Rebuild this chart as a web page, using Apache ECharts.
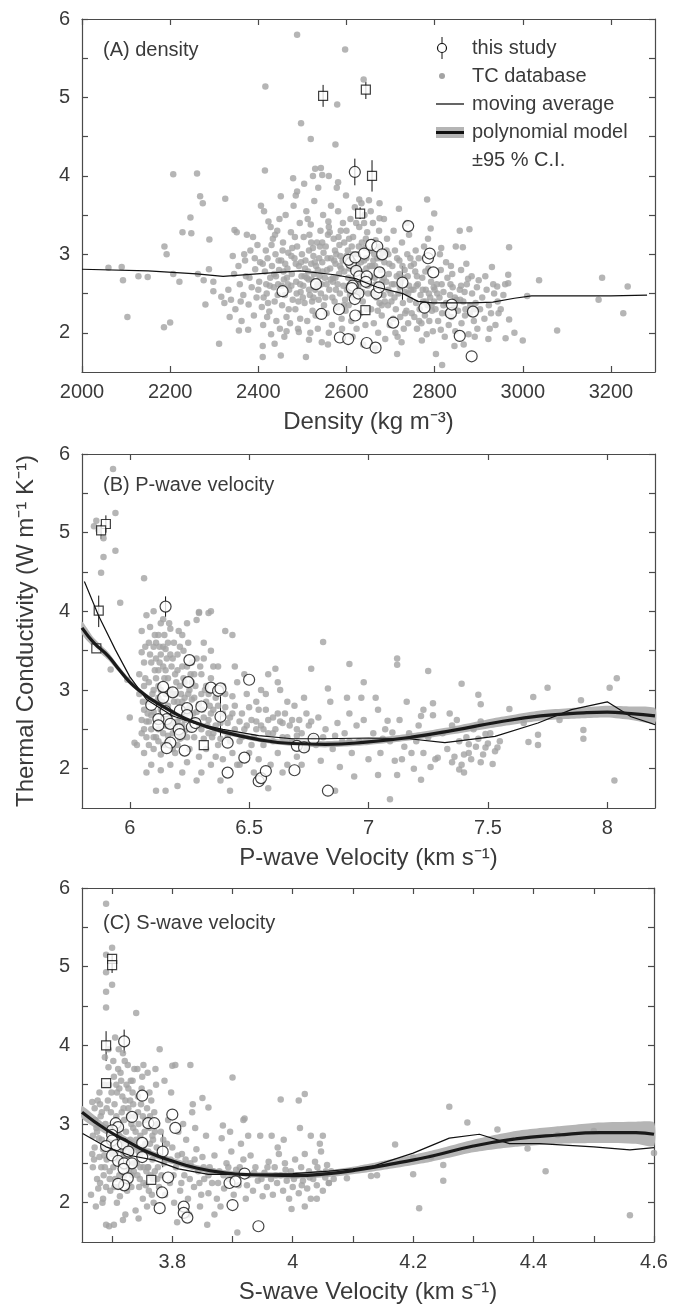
<!DOCTYPE html>
<html>
<head>
<meta charset="utf-8">
<script src="https://cdn.jsdelivr.net/npm/echarts@6/dist/echarts.min.js"></script>
<style>html,body{margin:0;padding:0;background:#fff}#chart{width:673px;height:1311px}</style>
</head>
<body>
<div id="chart"></div>
<script>
var FONT = 'Liberation Sans, Arial, sans-serif';
var INK = '#3a3a3a';

// ---------- (A) density ----------
var tcA = [[2488,5.80],[2597,5.61],[2416,5.14],[2639,5.23],[2579,4.91],[2497,4.67],[2519,4.47],[2575,4.40],[2207,4.02],[2261,4.03],[2415,4.07],[2529,4.09],[2542,4.10],[2524,4.00],[2545,4.01],[2560,4.00],[2581,3.92],[2479,3.97],[2451,3.74],[2488,3.80],[2268,3.74],[2274,3.65],[2325,3.71],[2246,3.47],[2228,3.28],[2248,3.27],[2289,3.19],[2187,3.10],[2192,3.00],[2060,2.83],[2090,2.84],[2093,2.67],[2128,2.72],[2149,2.71],[2207,2.75],[2221,2.65],[2263,2.75],[2288,2.81],[2276,2.67],[2298,2.65],[2298,2.53],[2280,2.36],[2103,2.20],[2186,2.07],[2200,2.13],[2311,1.86],[2323,2.38],[2316,2.46],[2346,3.31],[2351,3.28],[2374,3.25],[2388,3.22],[2410,1.83],[2410,1.69],[2451,1.71],[2437,1.86],[2464,2.02],[2492,2.01],[2508,1.69],[2515,1.91],[2544,1.88],[2558,1.85],[2377,2.04],[2356,2.03],[2817,1.59],[2803,1.73],[2715,1.73],[2814,2.04],[2845,1.83],[2891,1.95],[2922,1.92],[2961,1.93],[2981,2.00],[3000,1.90],[3078,2.03],[3228,2.25],[3238,2.59],[3180,2.70],[3172,2.42],[3037,2.67],[3010,2.47],[2969,3.09],[2967,2.74],[2967,2.63],[2879,3.32],[2857,3.30],[2864,3.09],[2930,2.84],[2837,2.85],[2783,3.70],[2799,3.52],[2719,3.58],[2675,3.65],[2651,3.69],[2629,3.70],[2675,3.46],[2742,3.25],[2791,3.33],[2815,3.08],[2945,2.25],[2969,2.17],[2935,2.50],[2942,2.59],[2900,2.67],[2876,2.69],
[2332,2.55],[2338,2.42],[2342,2.98],[2348,2.30],[2355,2.85],[2358,2.62],[2362,2.15],[2366,2.48],[2370,2.92],[2372,2.72],[2378,2.36],[2382,3.05],[2385,2.58],[2390,2.22],[2393,2.81],[2396,2.45],[2398,3.12],[2368,3.00],[2345,2.75],[2335,2.20],
[2402,2.65],[2404,2.90],[2406,3.62],[2408,2.33],[2411,2.10],[2413,3.55],[2415,2.78],[2417,3.05],[2419,2.50],[2421,2.95],[2423,3.42],[2425,2.27],[2427,2.70],[2429,1.98],[2431,2.85],[2433,3.20],[2435,2.58],[2437,2.40],[2439,3.00],[2441,2.15],[2443,3.30],[2445,2.62],[2447,2.80],[2449,2.05],[2420,2.20],[2430,3.12],[2440,2.72],[2412,2.45],[2426,2.60],[2448,3.45],
[2452,2.92],[2454,2.35],[2456,3.15],[2458,2.68],[2460,2.48],[2462,3.50],[2464,2.20],[2466,2.82],[2468,3.02],[2470,2.55],[2472,2.12],[2474,3.28],[2476,2.75],[2478,2.42],[2480,3.62],[2482,2.95],[2484,2.30],[2486,2.65],[2488,3.10],[2490,2.05],[2492,2.85],[2494,3.40],[2496,2.52],[2498,2.72],[2459,1.95],[2467,2.62],[2475,2.98],[2483,3.22],[2491,2.40],[2499,3.00],[2457,2.78],[2485,3.75],[2495,2.18],
[2502,2.60],[2503,3.22],[2505,2.38],[2507,2.92],[2509,3.55],[2511,2.15],[2513,2.78],[2515,3.05],[2517,2.48],[2519,3.38],[2521,2.68],[2523,2.28],[2525,2.98],[2527,3.68],[2529,2.55],[2531,2.85],[2533,3.15],[2535,2.05],[2537,2.42],[2539,2.72],[2541,3.30],[2543,2.62],[2545,2.90],[2547,3.50],[2549,2.35],[2506,2.82],[2512,3.45],[2518,2.00],[2524,3.08],[2530,2.22],[2536,3.85],[2542,2.50],[2548,3.02],[2514,2.68],[2526,2.75],[2538,2.95],[2504,3.90],[2520,2.88],
[2551,2.70],[2553,3.10],[2555,2.25],[2557,2.95],[2559,3.42],[2561,2.55],[2563,2.82],[2565,3.62],[2567,2.10],[2569,2.65],[2571,3.20],[2573,2.40],[2575,2.88],[2577,3.00],[2579,2.32],[2581,3.55],[2583,2.75],[2585,2.50],[2587,3.30],[2589,2.18],[2591,2.92],[2593,2.60],[2595,3.15],[2597,2.42],[2599,3.75],[2556,2.80],[2562,3.28],[2568,2.45],[2574,3.05],[2580,2.62],[2586,2.98],[2592,3.40],[2598,2.28],[2560,2.00],[2578,3.85],[2590,2.05],[2570,2.70],[2584,3.12],
[2601,2.55],[2603,3.05],[2605,2.35],[2607,2.82],[2609,3.45],[2611,2.15],[2613,2.68],[2615,3.22],[2617,2.45],[2619,3.60],[2621,2.78],[2623,2.05],[2625,3.00],[2627,2.60],[2629,3.35],[2631,2.25],[2633,2.90],[2635,3.15],[2637,2.40],[2639,2.72],[2641,3.50],[2643,2.10],[2645,2.95],[2647,3.28],[2649,2.50],[2606,3.20],[2614,1.95],[2622,3.40],[2630,2.65],[2638,1.85],[2646,2.30],[2610,2.92],[2626,2.48],[2642,3.08],[2618,2.62],[2634,3.65],
[2652,2.62],[2654,3.05],[2656,2.30],[2658,2.85],[2660,3.40],[2662,2.12],[2664,2.70],[2666,3.18],[2668,2.45],[2670,2.95],[2672,2.00],[2674,3.30],[2676,2.58],[2678,2.80],[2680,2.22],[2682,3.02],[2684,2.48],[2686,2.90],[2688,1.92],[2690,2.65],[2692,3.20],[2694,2.35],[2696,2.75],[2698,2.10],[2655,3.55],[2665,1.80],[2675,2.38],[2685,3.45],[2695,2.55],[2661,2.92],
[2702,2.40],[2704,2.85],[2706,2.18],[2708,2.62],[2710,3.05],[2712,2.30],[2714,2.72],[2716,1.95],[2718,2.50],[2720,2.92],[2722,2.20],[2724,2.65],[2726,3.15],[2728,2.38],[2730,2.05],[2732,2.80],[2734,2.52],[2736,2.28],[2738,3.00],[2740,2.12],[2742,2.60],[2744,2.42],[2746,2.85],[2748,2.25],[2707,3.30],[2725,1.88],[2737,3.40],[2711,2.00],[2729,2.70],[2745,2.95],
[2752,2.55],[2754,2.20],[2756,2.78],[2758,2.38],[2760,2.05],[2762,2.62],[2764,2.95],[2766,2.30],[2768,2.48],[2770,2.12],[2772,2.70],[2774,2.40],[2776,3.10],[2778,2.22],[2780,2.55],[2782,1.98],[2784,2.35],[2786,2.82],[2788,2.15],[2790,2.45],[2792,2.65],[2794,2.28],[2796,2.02],[2798,2.58],[2757,3.05],[2771,1.90],[2785,3.20],[2799,2.40],
[2802,2.30],[2805,2.62],[2808,2.15],[2811,2.45],[2814,2.80],[2817,2.25],[2820,2.52],[2823,1.95],[2826,2.38],[2829,2.70],[2832,2.10],[2835,2.48],[2838,2.20],[2841,2.58],[2844,2.32],[2847,2.02],[2850,2.42],[2812,3.00],[2826,2.90],[2840,2.75],[2848,3.10],
[2853,2.28],[2857,2.55],[2861,2.12],[2865,2.40],[2869,2.22],[2873,2.62],[2877,1.98],[2881,2.35],[2885,2.50],[2889,2.15],[2893,2.38],[2897,2.05],[2860,2.80],[2872,2.88],[2884,2.72],[2896,2.58],[2866,1.85],
[2903,2.30],[2908,2.45],[2913,2.18],[2918,2.55],[2923,2.35],[2928,2.25],[2933,2.62],[2938,2.10],[2943,2.40],[2950,2.30],[2956,2.48],[2915,2.72],[2925,2.05],[2960,2.62],
[2453,2.60],[2461,2.88],[2469,2.30],[2477,3.08],[2487,2.50],[2497,2.90],[2501,2.45],[2510,2.70],[2516,3.25],[2522,2.40],[2528,2.90],[2534,2.62],[2540,3.10],[2546,2.78],[2552,2.45],[2558,3.25],[2564,2.68],[2572,2.92],[2576,2.55],[2582,3.22],[2588,2.82],[2594,2.35],[2600,2.98],[2604,2.70],[2608,2.48],[2612,3.10],[2616,2.85],[2624,2.55],[2628,3.10],[2632,2.78],[2636,2.52],[2640,2.92],[2644,3.20],[2648,2.60],[2653,2.85],[2659,2.50],[2663,3.00],[2667,2.62],[2671,2.28],[2677,2.95],[2681,2.65],[2687,2.40],[2691,3.05],[2697,2.88],[2703,2.62],[2709,2.45],[2715,2.95],[2721,2.58],[2727,2.85],[2733,2.25],[2739,2.72],[2747,2.55],[2753,2.88],[2759,2.60],[2765,2.15],[2773,2.55],[2779,2.78],[2787,2.50],[2793,2.35],[2806,2.50],[2816,2.62],[2828,2.25],[2836,2.62],[2846,2.45],[2858,2.42],[2868,2.52],[2880,2.25],[2890,2.30],[2410,2.88],[2418,2.62],[2428,3.35],[2436,2.75],[2444,2.48],[2422,2.38],[2438,3.25],[2446,2.92],[2380,2.70],[2360,2.40],[2392,2.95],
[2505,2.72],[2515,2.55],[2525,2.45],[2535,2.80],[2545,3.15],[2555,2.62],[2565,2.95],[2575,2.70],[2585,2.85],[2595,2.78],[2605,2.60],[2615,3.00],[2625,2.85],[2635,2.68],[2645,2.82],[2655,2.72],[2665,2.85],[2675,3.10],[2685,2.70],[2695,3.00],[2465,2.70],[2475,2.60],[2485,2.88],[2495,2.62],[2455,3.05],[2520,3.15],[2560,3.35],[2600,3.30],[2640,3.40],[2680,2.35],[2700,2.50],[2720,2.75],[2740,2.50],[2760,2.72],[2780,2.40],[2800,2.55],[2820,2.35],[2860,2.60],[2870,2.30],[2400,2.55]];
var studyA = [[2455,2.53],[2531,2.62],[2543,2.24],[2583,2.30],[2585,1.94],[2604,1.92],[2610,2.89],[2605,2.93],[2620,2.96],[2614,2.60],[2612,2.57],[2619,2.43],[2620,2.22],[2627,2.50],[2622,2.79],[2629,2.72],[2640,3.01],[2646,2.72],[2644,2.65],[2646,1.87],[2656,3.12],[2666,1.81],[2670,3.10],[2668,2.50],[2675,2.77],[2674,2.58],[2681,3.00],[2706,2.13],[2727,2.64],[2740,3.36],[2777,2.32],[2785,2.95],[2789,3.01],[2797,2.77],[2837,2.25],[2839,2.36],[2857,1.96],[2887,2.27],[2884,1.70],[2619,4.05]];
var squareA = [[2547,5.02],[2644,5.10],[2658,4.00],[2631,3.52],[2643,2.29]];
var errA = [[2619,3.88,4.22],[2547,4.88,5.16],[2644,4.98,5.20],[2658,3.80,4.20],[2727,2.42,2.85],[2631,3.45,3.60]];
var mavgA = [[2000,2.81],[2150,2.79],[2260,2.75],[2320,2.72],[2420,2.76],[2495,2.79],[2573,2.74],[2621,2.69],[2670,2.58],[2728,2.50],[2762,2.40],[2796,2.38],[2884,2.38],[2932,2.39],[2981,2.44],[3020,2.47],[3100,2.47],[3200,2.47],[3282,2.48]];

// ---------- (B) P-wave velocity ----------
var tcB = [[5.93,5.81],[5.94,5.25],[5.86,5.15],[5.85,5.08],[5.87,5.03],[5.89,4.93],[5.89,4.69],[5.88,4.49],[5.94,4.77],[5.96,4.11],[6.06,4.42],[5.92,3.26],[5.99,3.13],[6.00,2.65],[6.02,2.33],
[6.81,3.61],[6.76,3.27],[6.92,3.33],[6.98,3.10],[7.12,3.32],[7.12,3.40],[7.25,3.24],[7.39,3.08],[7.46,2.94],[7.47,2.82],[7.69,2.91],[7.75,3.03],[7.89,2.87],[8.01,3.03],[8.04,3.15],[8.03,1.85],[7.90,2.49],[7.90,2.38],[7.80,2.62],[7.71,2.43],[7.71,2.30],[7.67,2.34],[7.59,2.76],[7.65,2.58],[7.54,2.27],[7.52,2.06],[7.49,2.44],[7.49,2.27],[7.47,2.08],[7.42,2.31],[7.40,2.18],[7.38,1.99],[7.35,2.08],[7.29,2.14],[7.34,2.70],[7.27,2.83],[7.23,2.75],[7.22,2.67],[7.22,1.86],[7.09,1.61],[7.04,1.92],[7.18,2.20],[7.14,2.12],[7.10,2.46],[7.08,2.61],[7.12,1.92],
[6.40,3.75],[6.43,3.70],[6.29,3.99],[6.34,4.00],[6.28,3.89],[6.58,3.20],[6.61,3.27],
[6.04,2.95],[6.05,2.45],[6.05,3.75],[6.06,2.20],[6.06,3.05],[6.07,2.60],[6.07,3.95],[6.08,2.85],[6.08,2.30],[6.09,3.35],[6.09,2.05],[6.10,2.72],[6.10,3.55],[6.04,3.20],[6.06,2.75],[6.08,3.60],[6.09,2.50],[6.03,2.30],[6.07,1.95],[6.10,4.00],[6.05,3.48],
[6.11,2.40],[6.11,3.15],[6.12,2.90],[6.12,3.70],[6.13,2.18],[6.13,3.45],[6.14,2.65],[6.14,3.90],[6.15,2.30],[6.15,3.25],[6.16,2.80],[6.16,3.60],[6.17,2.05],[6.17,3.00],[6.18,2.45],[6.18,3.40],[6.11,1.72],[6.13,1.98],[6.15,1.72],[6.12,3.05],[6.14,3.30],[6.16,2.55],[6.18,2.70],[6.17,3.78],[6.13,3.85],[6.11,3.60],[6.15,3.52],
[6.19,2.20],[6.19,2.95],[6.20,3.25],[6.20,2.60],[6.21,2.38],[6.21,3.55],[6.22,2.85],[6.22,1.95],[6.23,3.10],[6.23,2.48],[6.24,2.70],[6.24,3.85],[6.25,2.25],[6.25,3.00],[6.26,2.58],[6.26,3.35],[6.20,1.78],[6.22,3.70],[6.24,2.08],[6.26,2.88],
[6.27,2.40],[6.27,3.20],[6.28,2.72],[6.29,2.15],[6.29,3.98],[6.30,2.95],[6.30,2.50],[6.31,3.40],[6.32,2.25],[6.32,2.85],[6.33,3.98],[6.33,2.62],[6.34,2.05],[6.34,3.15],[6.35,2.45],[6.35,2.75],[6.28,1.85],[6.31,3.60],[6.30,1.95],[6.34,3.50],
[6.36,2.90],[6.37,2.30],[6.37,3.30],[6.38,2.58],[6.39,2.12],[6.39,3.05],[6.40,2.78],[6.41,2.40],[6.42,2.65],[6.43,2.20],[6.43,2.92],[6.44,2.50],[6.45,3.10],[6.45,2.05],[6.38,1.85],[6.42,1.72],[6.36,2.15],[6.44,2.80],
[6.46,2.35],[6.47,2.70],[6.48,2.50],[6.49,2.95],[6.50,2.20],[6.51,2.62],[6.52,2.40],[6.53,2.85],[6.54,2.12],[6.55,2.55],[6.56,2.30],[6.57,2.75],[6.58,2.45],[6.59,2.05],[6.60,2.65],[6.48,3.20],[6.52,1.95],[6.57,2.95],[6.58,1.75],[6.46,2.05],[6.55,3.00],[6.60,2.35],[6.53,2.60],
[6.61,2.50],[6.62,2.20],[6.63,3.00],[6.64,2.40],[6.65,2.70],[6.66,2.05],[6.67,2.55],[6.68,2.35],[6.69,2.80],[6.70,2.15],[6.71,2.62],[6.72,2.45],[6.73,2.90],[6.74,2.25],[6.75,2.55],[6.63,2.60],[6.66,2.85],[6.70,2.42],[6.74,2.70],[6.64,1.95],[6.72,2.05],[6.62,3.10],
[6.77,2.40],[6.79,2.65],[6.80,2.10],[6.82,2.50],[6.84,2.85],[6.85,2.25],[6.87,2.58],[6.88,2.02],[6.90,2.45],[6.92,2.70],[6.93,2.20],[6.95,2.55],[6.96,2.35],[6.98,2.62],[7.00,2.12],[6.86,1.72],[6.83,3.02],[6.91,2.90],[6.97,2.90],[6.78,2.30],[6.94,1.90],[6.89,2.35],
[7.02,2.45],[7.04,2.75],[7.05,2.20],[7.07,2.50],[7.09,2.35],[7.11,2.10],[7.13,2.62],[7.15,2.28],[7.17,2.45],[7.19,2.00],[7.21,2.55],[7.23,2.20],[7.25,2.40],[7.27,2.68],[7.28,2.12],[7.03,2.90],[7.16,2.85],[7.26,2.02],
[7.31,2.45],[7.33,2.25],[7.35,2.55],[7.36,2.15],[7.38,2.35],[7.39,2.05],[7.41,2.40],[7.42,2.20],[7.43,2.12],[7.44,2.50],[7.45,2.28],[7.46,2.38],[7.48,2.18],[7.50,2.32],[7.51,2.45],[7.53,2.22],[7.37,2.62],[7.47,2.60],[7.40,1.95],[7.55,2.35],
[6.05,2.62],[6.06,3.35],[6.07,2.40],[6.08,3.10],[6.09,2.68],[6.10,3.00],[6.10,2.25],[6.11,2.85],[6.11,3.40],[6.12,2.50],[6.12,3.25],[6.13,2.75],[6.13,3.00],[6.14,2.45],[6.14,3.55],[6.15,2.95],[6.15,2.55],[6.16,3.15],[6.16,2.35],[6.17,2.72],[6.17,3.45],[6.18,2.95],[6.18,2.25],[6.19,3.20],[6.19,2.55],[6.20,2.85],[6.20,3.45],[6.21,2.65],[6.21,3.05],[6.22,2.40],[6.22,3.30],[6.23,2.62],[6.23,2.90],[6.24,3.30],[6.25,2.50],[6.25,2.78],[6.26,3.10],[6.27,2.62],[6.27,2.90],[6.28,3.40],[6.29,2.55],[6.29,2.82],[6.30,3.20],[6.31,2.65],[6.31,2.38],[6.32,3.05],[6.33,2.45],[6.33,2.95],[6.34,2.70],[6.35,3.30],[6.36,2.55],[6.37,2.80],[6.38,2.38],[6.39,2.70],[6.40,2.95],[6.41,2.58],[6.42,2.35],[6.43,2.70],[6.44,3.30],[6.46,2.60],[6.47,2.40],[6.49,2.55],[6.50,2.78],[6.51,2.30],[6.53,2.50],[6.54,2.75],[6.56,2.50],[6.58,2.62],[6.60,2.45],[6.62,2.70],[6.64,2.58],[6.66,2.40],[6.68,2.62],[6.70,2.50],[6.76,2.60],[6.81,2.40],[6.86,2.42],[6.92,2.35],[7.06,2.38],[7.20,2.35],
[6.055,2.85],[6.065,3.15],[6.075,2.70],[6.085,3.45],[6.095,2.95],[6.105,3.25],[6.115,2.60],[6.125,3.35],[6.135,2.85],[6.145,3.15],[6.155,3.40],[6.165,2.65],[6.175,3.30],[6.185,2.85],[6.195,3.10],[6.205,2.45],[6.215,2.95],[6.225,3.15],[6.235,2.75],[6.245,2.95],[6.255,3.20],[6.265,2.70],[6.275,3.05],[6.285,2.60],[6.295,3.30],[6.305,2.75],[6.315,3.00],[6.325,2.55],[6.335,2.80],[6.345,2.40],[6.06,2.50],[6.08,2.60],[6.10,2.40],[6.12,2.35],[6.14,2.30],[6.16,2.42],[6.18,2.58],[6.20,2.30],[6.22,2.55],[6.24,2.40],[6.065,3.55],[6.085,3.80],[6.105,3.70],[6.125,3.55],[6.145,3.70],[6.165,3.85],[6.185,3.60],[6.205,3.75],[6.225,3.50],[6.245,3.60]];
var studyB = [[6.15,4.06],[6.25,3.38],[6.245,3.10],[6.09,2.81],[6.14,3.04],[6.14,2.90],[6.18,2.97],[6.15,2.73],[6.21,2.74],[6.155,2.63],[6.12,2.63],[6.12,2.55],[6.17,2.57],[6.205,2.50],[6.21,2.44],[6.17,2.33],[6.155,2.26],[6.23,2.23],[6.24,2.77],[6.24,2.68],[6.30,2.79],[6.26,2.53],[6.275,2.58],[6.34,3.03],[6.37,2.99],[6.38,3.02],[6.38,2.66],[6.41,2.33],[6.41,1.95],[6.48,2.14],[6.50,3.13],[6.54,1.84],[6.55,1.88],[6.57,1.97],[6.69,1.98],[6.70,2.29],[6.73,2.27],[6.77,2.38],[6.83,1.72]];
var squareB = [[5.90,5.11],[5.88,5.03],[5.87,4.01],[5.86,3.53],[6.31,2.30]];
var errB = [[6.15,3.93,4.19],[5.87,3.80,4.20],[5.90,5.00,5.22],[5.88,4.92,5.10],[6.38,2.40,2.92]];
var mavgB = [[5.81,4.38],[5.87,3.94],[5.94,3.51],[6.0,3.17],[6.07,2.88],[6.18,2.67],[6.27,2.58],[6.39,2.50],[6.54,2.42],[6.68,2.38],[6.81,2.38],[7.0,2.39],[7.17,2.38],[7.32,2.33],[7.53,2.41],[7.71,2.58],[7.85,2.75],[8.0,2.85],[8.1,2.66],[8.2,2.56]];
// polynomial model: [x, fit, lower 95%, upper 95%]
var polyB = [[5.80,3.79,3.71,3.87],[5.85,3.60,3.54,3.66],[5.91,3.43,3.38,3.48],[5.95,3.28,3.24,3.32],[6.0,3.10,3.07,3.14],[6.05,2.97,2.94,3.00],[6.09,2.88,2.85,2.91],[6.18,2.72,2.70,2.75],[6.27,2.59,2.57,2.62],[6.39,2.47,2.44,2.50],[6.54,2.37,2.34,2.40],[6.68,2.32,2.29,2.36],[6.82,2.31,2.27,2.35],[7.0,2.34,2.30,2.38],[7.18,2.40,2.36,2.45],[7.36,2.49,2.44,2.54],[7.54,2.59,2.53,2.65],[7.72,2.67,2.61,2.74],[7.90,2.71,2.64,2.78],[8.0,2.72,2.65,2.80],[8.1,2.70,2.62,2.79],[8.2,2.67,2.58,2.77]];

// ---------- (C) S-wave velocity ----------
var tcC = [[3.69,5.80],[3.70,5.24],[3.69,5.15],[3.69,4.93],[3.69,4.68],[3.69,4.48],[3.70,4.77],[3.74,4.41],[3.90,3.59],[3.98,3.31],[4.01,3.30],[4.02,3.38],[3.83,3.75],[3.80,3.74],[3.85,3.33],[3.86,3.21],[3.92,3.07],[4.26,3.22],[4.29,3.02],[4.34,2.93],[4.39,2.69],[4.42,2.40],[4.44,2.86],[4.50,2.91],[4.56,1.84],[4.60,2.63],[4.17,2.74],[4.23,2.58],[4.25,2.48],[4.25,2.28],[4.20,2.36],[4.21,1.93],[4.20,2.57],[4.14,2.35],[4.13,2.34],[4.09,2.31],[4.06,2.25],
[3.665,2.10],[3.67,2.55],[3.672,3.05],[3.675,2.30],[3.678,2.82],[3.68,3.25],[3.682,2.45],[3.685,2.68],[3.687,3.50],[3.69,2.20],[3.692,2.95],[3.694,3.72],[3.696,2.40],[3.698,3.15],[3.70,2.62],[3.668,2.85],[3.676,3.30],[3.684,2.00],[3.688,3.85],[3.695,1.70],[3.69,1.72],[3.685,2.05],[3.699,3.40],[3.673,1.95],[3.667,3.28],
[3.701,2.85],[3.703,3.60],[3.705,2.30],[3.707,3.10],[3.709,2.55],[3.711,3.95],[3.713,2.08],[3.715,2.75],[3.717,3.35],[3.719,2.45],[3.721,3.80],[3.723,2.90],[3.725,2.15],[3.727,3.20],[3.729,2.60],[3.731,3.55],[3.733,2.35],[3.735,2.95],[3.737,3.70],[3.739,1.90],[3.704,3.25],[3.708,2.00],[3.712,3.45],[3.716,2.25],[3.72,3.05],[3.724,3.50],[3.728,2.40],[3.732,3.00],[3.736,2.70],[3.703,1.72],[3.722,1.85],[3.718,1.78],[3.705,4.10],[3.714,3.65],[3.73,3.30],
[3.741,2.50],[3.743,3.15],[3.745,2.20],[3.747,2.85],[3.749,3.45],[3.751,2.05],[3.753,2.65],[3.755,3.05],[3.757,2.40],[3.759,3.65],[3.761,2.15],[3.763,2.75],[3.765,3.30],[3.767,2.55],[3.769,2.00],[3.771,2.90],[3.773,3.50],[3.775,2.30],[3.777,2.60],[3.779,3.95],[3.744,1.80],[3.752,3.75],[3.758,1.95],[3.762,3.40],[3.766,2.10],[3.772,3.70],[3.776,2.45],[3.746,2.60],
[3.782,2.35],[3.785,2.80],[3.788,2.10],[3.79,2.55],[3.793,3.05],[3.796,2.25],[3.80,2.70],[3.803,2.00],[3.806,2.45],[3.81,2.90],[3.813,2.15],[3.816,2.62],[3.82,2.35],[3.823,2.80],[3.826,2.05],[3.83,2.50],[3.833,3.15],[3.836,2.20],[3.84,2.68],[3.843,2.40],[3.846,1.95],[3.85,2.58],[3.853,2.30],[3.856,2.85],[3.86,2.12],[3.798,3.40],[3.808,1.75],[3.818,3.00],[3.828,1.85],[3.838,2.95],[3.848,2.10],[3.858,1.72],[3.834,3.25],[3.787,3.55],[3.805,3.75],
[3.862,2.45],[3.866,2.25],[3.87,2.60],[3.874,2.05],[3.878,2.40],[3.882,2.82],[3.886,2.18],[3.89,2.50],[3.894,2.30],[3.898,2.65],[3.902,2.10],[3.906,2.42],[3.91,2.22],[3.914,2.75],[3.918,2.55],[3.922,2.05],[3.926,2.35],[3.93,2.60],[3.934,2.15],[3.938,2.45],[3.942,2.28],[3.946,2.85],[3.95,2.08],[3.87,1.85],[3.884,2.98],[3.908,1.62],[3.918,3.05],[3.926,2.85],[3.896,2.90],[3.88,1.95],
[3.953,2.38],[3.957,2.20],[3.96,2.52],[3.964,2.30],[3.967,2.10],[3.97,2.45],[3.974,2.25],[3.977,2.62],[3.98,2.35],[3.984,2.15],[3.987,2.50],[3.99,2.28],[3.994,2.05],[3.997,2.40],[4.00,2.20],[4.004,2.55],[4.007,2.35],[4.01,2.12],[4.014,2.45],[4.017,2.28],[4.02,2.62],[4.024,2.18],[4.027,2.40],[4.03,2.05],[4.034,2.30],[4.037,2.52],[4.04,2.22],[4.044,2.38],[4.047,2.65],[4.05,2.15],[4.054,2.32],[4.057,2.48],[4.06,2.25],[4.064,2.40],[4.068,2.30],[3.965,2.85],[3.985,2.80],[4.012,2.95],[4.03,2.85],[4.045,2.75],[4.05,2.85],[3.998,1.92],[4.02,1.95],[4.04,2.05],[3.975,2.70],
[3.668,2.45],[3.671,2.70],[3.674,2.95],[3.677,2.18],[3.679,2.58],[3.681,3.10],[3.683,2.80],[3.686,2.35],[3.689,3.00],[3.691,2.55],[3.693,3.30],[3.695,2.78],[3.697,2.15],[3.699,2.95],[3.702,2.45],[3.704,3.00],[3.706,2.65],[3.708,3.40],[3.71,2.20],[3.712,2.85],[3.714,2.50],[3.716,3.15],[3.718,2.65],[3.72,2.35],[3.722,3.30],[3.724,2.70],[3.726,2.50],[3.728,3.10],[3.73,2.80],[3.732,2.20],[3.734,3.40],[3.736,2.50],[3.738,3.10],[3.74,2.80],[3.742,2.35],[3.744,3.00],[3.746,2.30],[3.748,3.25],[3.75,2.70],[3.752,2.45],[3.754,2.90],[3.756,2.22],[3.758,3.20],[3.76,2.65],[3.762,2.95],[3.764,2.35],[3.768,2.80],[3.77,3.15],[3.774,2.70],[3.778,2.20],[3.781,2.90],[3.786,2.50],[3.791,2.75],[3.797,2.55],[3.802,2.35],[3.809,2.60],[3.815,2.25],[3.822,2.55],[3.829,2.30],[3.837,2.55],[3.845,2.25],[3.852,2.45],[3.86,2.35],[3.868,2.40],[3.876,2.25],[3.885,2.35],[3.893,2.45],[3.9,2.35],[3.912,2.45],[3.924,2.22],[3.936,2.38],[3.948,2.30],[3.958,2.45],[3.972,2.35],[3.988,2.42],[4.002,2.30],[4.015,2.22],[4.028,2.32],[4.041,2.45],[4.055,2.40],
[3.667,2.62],[3.671,3.20],[3.675,2.90],[3.679,3.40],[3.683,3.15],[3.687,2.60],[3.691,3.20],[3.695,3.50],[3.699,2.70],[3.703,2.75],[3.707,3.50],[3.711,2.95],[3.715,3.55],[3.719,3.20],[3.723,2.60],[3.727,3.45],[3.731,2.65],[3.735,3.25],[3.739,2.90],[3.743,3.35],[3.747,2.45],[3.751,3.10],[3.755,2.75],[3.759,2.45],[3.763,3.10],[3.767,2.85],[3.771,2.40],[3.775,3.00],[3.68,2.25],[3.688,2.45],[3.696,2.30],[3.704,2.20],[3.712,2.35],[3.72,2.60],[3.728,2.25],[3.736,2.40],[3.744,2.65],[3.752,2.25],[3.76,2.45],[3.768,2.30],[3.694,3.95],[3.702,3.80],[3.71,3.70],[3.718,3.90],[3.726,3.75],[3.734,3.55],[3.742,3.70],[3.75,3.60]];
var studyC = [[3.72,4.05],[3.75,3.36],[3.733,3.09],[3.76,3.01],[3.77,3.01],[3.80,3.12],[3.805,2.95],[3.706,3.01],[3.71,2.96],[3.70,2.92],[3.70,2.86],[3.70,2.79],[3.69,2.72],[3.707,2.73],[3.718,2.75],[3.75,2.76],[3.727,2.65],[3.70,2.60],[3.71,2.53],[3.72,2.50],[3.733,2.50],[3.75,2.58],[3.784,2.65],[3.719,2.43],[3.726,2.31],[3.72,2.22],[3.71,2.24],[3.793,2.32],[3.783,2.13],[3.779,1.93],[3.819,1.95],[3.819,1.87],[3.825,1.81],[3.895,2.25],[3.905,2.27],[3.92,2.37],[3.90,1.97],[3.943,1.70]];
var squareC = [[3.70,5.10],[3.70,5.02],[3.69,4.00],[3.69,3.52],[3.765,2.29]];
var errC = [[3.72,3.90,4.20],[3.69,3.80,4.18],[3.70,4.92,5.15],[3.784,2.45,2.88]];
var mavgC = [[3.651,2.88],[3.69,2.71],[3.73,2.60],[3.77,2.54],[3.81,2.43],[3.86,2.36],[3.90,2.36],[3.94,2.36],[4.0,2.37],[4.06,2.40],[4.10,2.43],[4.136,2.47],[4.20,2.63],[4.26,2.82],[4.31,2.87],[4.36,2.75],[4.41,2.75],[4.50,2.71],[4.56,2.67],[4.60,2.70]];
var polyC = [[3.65,3.15,3.07,3.23],[3.69,2.93,2.87,2.99],[3.73,2.76,2.71,2.81],[3.76,2.64,2.60,2.68],[3.80,2.53,2.49,2.57],[3.84,2.44,2.40,2.48],[3.886,2.38,2.345,2.415],[3.93,2.355,2.32,2.39],[4.0,2.345,2.305,2.385],[4.06,2.37,2.325,2.415],[4.11,2.42,2.37,2.47],[4.17,2.50,2.44,2.56],[4.23,2.59,2.52,2.66],[4.30,2.72,2.64,2.80],[4.37,2.81,2.71,2.91],[4.44,2.86,2.75,2.97],[4.51,2.89,2.76,3.02],[4.57,2.89,2.75,3.03],[4.60,2.87,2.72,3.02]];

// axis tick values
var yTicks = [2,2.5,3,3.5,4,4.5,5,5.5,6];
var yLabels = [2,3,4,5,6];
var xTicksA = [2000,2200,2400,2600,2800,3000,3200];
var xTicksB = [6,6.5,7,7.5,8];
var xTicksC = [3.7,3.8,3.9,4,4.1,4.2,4.3,4.4,4.5,4.6];
var xLabelsC = [3.8,4,4.2,4.4,4.6];

var chart = echarts.init(document.getElementById('chart'));

var grids = [
  {left:82, top:19, width:573, height:353},
  {left:82, top:454, width:573, height:354},
  {left:82, top:888, width:572, height:354}
];
var lineCol = '#4a4a4a';
var xAxes = [], yAxes = [];
function plain(v) { return String(v); }
function addAxes(g, xmin, xmax, xticks, xlabels, xname, yname) {
  var common = {type:'value', gridIndex:g, splitLine:{show:false},
    axisLine:{show:true, onZero:false, lineStyle:{color:lineCol, width:1.2}},
    axisTick:{show:true, inside:true, length:6, lineStyle:{color:lineCol, width:1.2}}};
  xAxes.push(Object.assign({}, common, {min:xmin, max:xmax, position:'bottom',
    axisTick:Object.assign({}, common.axisTick, {customValues:xticks}),
    axisLabel:{customValues:xlabels, formatter:plain, color:INK, fontSize:20, fontFamily:FONT, margin:10},
    name:xname, nameLocation:'middle', nameGap:38, nameTextStyle:{color:INK, fontSize:24, fontFamily:FONT}}));
  xAxes.push(Object.assign({}, common, {min:xmin, max:xmax, position:'top',
    axisTick:Object.assign({}, common.axisTick, {customValues:xticks}), axisLabel:{show:false}}));
  var yl = Object.assign({}, common, {min:1.5, max:6, position:'left',
    axisTick:Object.assign({}, common.axisTick, {customValues:yTicks}),
    axisLabel:{customValues:yLabels, formatter:plain, color:INK, fontSize:20, fontFamily:FONT, margin:12}});
  if (yname) {
    yl.name = yname; yl.nameLocation = 'middle'; yl.nameGap = 44;
    yl.nameTextStyle = {color:INK, fontSize:24, fontFamily:FONT};
  }
  yAxes.push(yl);
  yAxes.push(Object.assign({}, common, {min:1.5, max:6, position:'right',
    axisTick:Object.assign({}, common.axisTick, {customValues:yTicks}), axisLabel:{show:false}}));
}
addAxes(0, 2000, 3300, xTicksA, xTicksA, 'Density (kg m\u207B\u00B3)');
addAxes(1, 5.8, 8.2, xTicksB, xTicksB, 'P-wave Velocity (km s\u207B\u00B9)', 'Thermal Conductivity (W m\u207B\u00B9 K\u207B\u00B9)');
addAxes(2, 3.65, 4.6, xTicksC, xLabelsC, 'S-wave Velocity (km s\u207B\u00B9)');

var series = [];
function addPanel(g, tc, study, squares, err, mavg, poly) {
  var ax = {xAxisIndex:2*g, yAxisIndex:2*g};
  series.push(Object.assign({type:'scatter', data:tc, symbolSize:6.5, silent:true,
    itemStyle:{color:'#a3a3a3'}}, ax));
  if (poly) {
    series.push(Object.assign({type:'custom', data:poly, silent:true,
      renderItem:function(params, api) {
        if (params.dataIndex !== 0) return;
        var up = poly.map(function(p){ return api.coord([p[0], p[3]]); });
        var lo = poly.map(function(p){ return api.coord([p[0], p[2]]); }).reverse();
        return {type:'polygon', shape:{points:up.concat(lo), smooth:0.2}, style:{fill:'#b5b5b5'}};
      }, encode:{x:0, y:[2,3]}}, ax));
  }
  series.push(Object.assign({type:'line', data:mavg, symbol:'none', silent:true,
    lineStyle:{color:'#111', width:1.2}}, ax));
  if (poly) {
    series.push(Object.assign({type:'line', data:poly.map(function(p){ return [p[0], p[1]]; }),
      symbol:'none', smooth:true, silent:true, lineStyle:{color:'#1a1a1a', width:3.2}}, ax));
  }
  series.push(Object.assign({type:'custom', data:err, silent:true,
    renderItem:function(params, api) {
      var a = api.coord([api.value(0), api.value(1)]);
      var b = api.coord([api.value(0), api.value(2)]);
      return {type:'line', shape:{x1:a[0], y1:a[1], x2:b[0], y2:b[1]}, style:{stroke:'#111', lineWidth:1}};
    }, encode:{x:0, y:[1,2]}}, ax));
  series.push(Object.assign({type:'scatter', data:squares, symbol:'rect', symbolSize:9, silent:true,
    itemStyle:{color:'#fff', borderColor:'#111', borderWidth:1.2}}, ax));
  series.push(Object.assign({type:'scatter', data:study, symbol:'circle', symbolSize:11, silent:true,
    itemStyle:{color:'#fff', borderColor:'#111', borderWidth:1.2}}, ax));
}
addPanel(0, tcA, studyA, squareA, errA, mavgA, null);
addPanel(1, tcB, studyB, squareB, errB, mavgB, polyB);
addPanel(2, tcC, studyC, squareC, errC, mavgC, polyC);

function txt(x, y, s, size) {
  return {type:'text', x:x, y:y, silent:true,
    style:{text:s, fill:INK, fontSize:size || 20, fontFamily:FONT, verticalAlign:'middle'}};
}
var graphic = [
  txt(103, 50, '(A) density'),
  txt(103, 485, '(B) P-wave velocity'),
  txt(103, 923, '(C) S-wave velocity'),
  {type:'line', silent:true, shape:{x1:442, y1:37, x2:442, y2:59}, style:{stroke:'#111', lineWidth:1}},
  {type:'circle', silent:true, shape:{cx:442, cy:48, r:4.5}, style:{fill:'#fff', stroke:'#111', lineWidth:1.2}},
  {type:'circle', silent:true, shape:{cx:442, cy:76, r:3}, style:{fill:'#a3a3a3'}},
  {type:'line', silent:true, shape:{x1:436, y1:104, x2:464, y2:104}, style:{stroke:'#111', lineWidth:1.3}},
  {type:'rect', silent:true, shape:{x:436, y:127, width:28, height:11}, style:{fill:'#b5b5b5'}},
  {type:'line', silent:true, shape:{x1:436, y1:132.5, x2:464, y2:132.5}, style:{stroke:'#111', lineWidth:3}},
  txt(472, 48, 'this study'),
  txt(472, 76, 'TC database'),
  txt(472, 104, 'moving average'),
  txt(472, 132, 'polynomial model'),
  txt(472, 160, '\u00B195 % C.I.')
];

chart.setOption({
  animation:false,
  backgroundColor:'#fff',
  grid:grids,
  xAxis:xAxes,
  yAxis:yAxes,
  series:series,
  graphic:graphic
});
</script>
</body>
</html>
